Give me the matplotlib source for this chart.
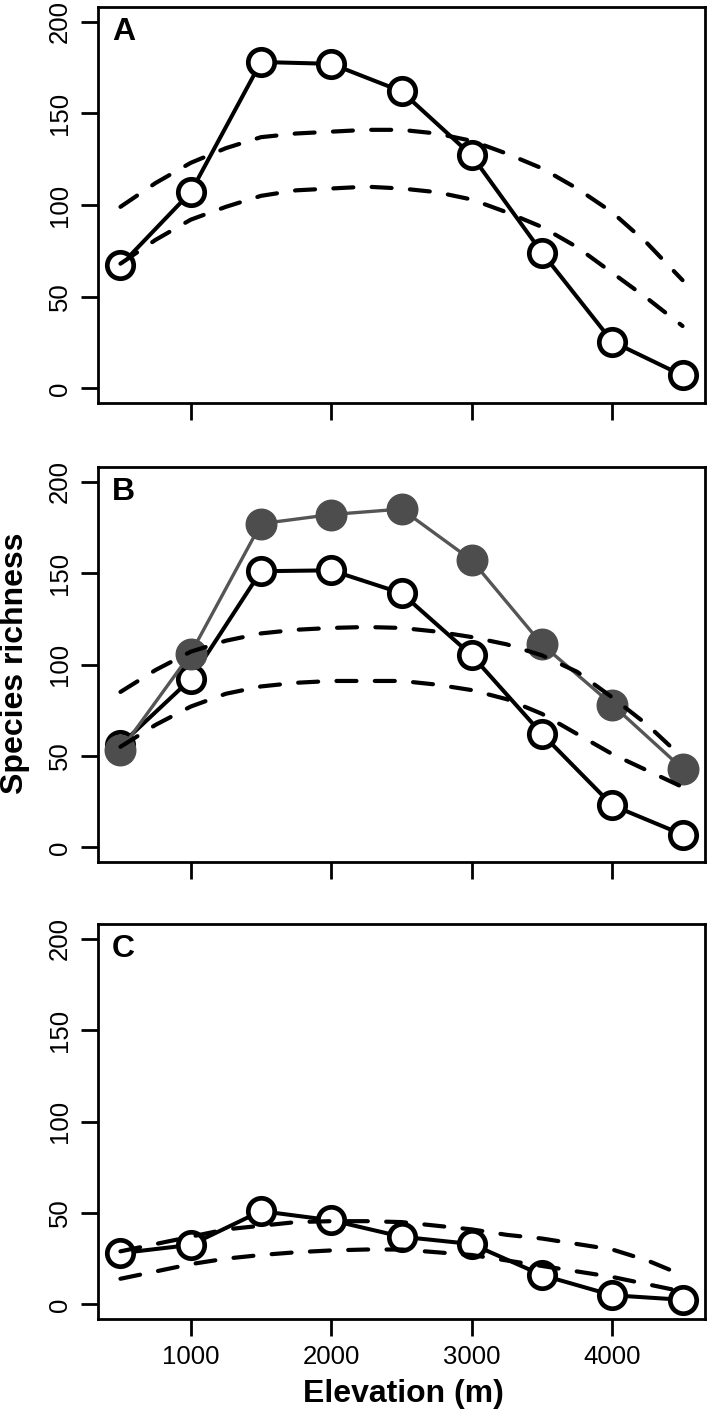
import matplotlib
matplotlib.use('Agg')
import matplotlib.pyplot as plt

plt.rcParams['font.family'] = ['Liberation Sans', 'DejaVu Sans']

# elevation bands (m)
elev = [500, 1000, 1500, 2000, 2500, 3000, 3500, 4000, 4500]
# null model envelope is read at finer steps
elev_null = [500, 750, 1000, 1250, 1500, 1750, 2000, 2250, 2500,
             2750, 3000, 3250, 3500, 3750, 4000, 4250, 4500]

# panel A
rich_a = [67, 107, 178, 177, 162, 127, 74, 25.5, 7]
upper_a = [99, 112, 123, 131, 137, 139, 140, 141, 141, 139, 135, 128, 120, 109, 96, 79, 59]
lower_a = [68, 81, 92, 99, 105, 108, 109, 110, 109, 107, 103, 96, 88, 77, 63, 49, 34]

# panel B
rich_b = [56, 92, 151, 151.5, 139, 105, 62, 23, 7]
rich_b_gray = [53, 106, 177, 182, 185, 157, 111, 78, 43]
upper_b = [85, 97, 107, 113, 117, 119, 120, 120.5, 120, 118, 115, 111, 105, 96, 82, 67, 49]
lower_b = [55, 67, 77, 84, 88, 90, 91, 91, 91, 89, 86, 81, 73, 62, 51, 42, 33]

# panel C
rich_c = [28, 32.5, 51, 46, 37, 33, 16, 5, 2.5]
upper_c = [29, 33, 37, 41, 43, 45, 45.5, 45.5, 45, 43, 41, 38, 36, 33, 30, 24, 16]
lower_c = [14, 18, 22, 25, 27, 28.5, 29.5, 30, 30, 28.5, 27, 24, 21, 18, 15, 11, 7]

panel_letters = ['A', 'B', 'C']
x_ticks = [1000, 2000, 3000, 4000]
y_ticks = [0, 50, 100, 150, 200]

W, H = 709, 1419
fig = plt.figure(figsize=(W / 100, H / 100), dpi=100)


def make_axes(top_px, bottom_px):
    return fig.add_axes([98 / W, (H - bottom_px) / H, 607 / W, (bottom_px - top_px) / H])


def style_axes(ax, letter, show_xlabels):
    ax.set_xlim(340, 4660)
    ax.set_ylim(-8, 208)
    ax.set_xticks(x_ticks)
    ax.set_yticks(y_ticks)
    ax.set_yticklabels([str(v) for v in y_ticks], rotation=90, va='center')
    if not show_xlabels:
        ax.set_xticklabels([])
    ax.tick_params(direction='out', length=12, width=2, labelsize=18.5, pad=7, colors='black')
    for sp in ax.spines.values():
        sp.set_linewidth(2)
    ax.text(0.023, 0.975, letter, transform=ax.transAxes, ha='left', va='top',
            fontsize=23, fontweight='bold')


def draw_null(ax, upper, lower):
    for arr in (upper, lower):
        ax.plot(elev_null, arr, color='black', lw=3.0, linestyle=(0, (4.8, 4.4)),
                dash_capstyle='round', zorder=5)


def draw_open(ax, vals):
    ax.plot(elev, vals, color='black', lw=2.9, marker='o', markersize=19,
            markerfacecolor='white', markeredgecolor='black', markeredgewidth=3.4, zorder=3)


ax_a = make_axes(7, 403)
draw_open(ax_a, rich_a)
draw_null(ax_a, upper_a, lower_a)
style_axes(ax_a, panel_letters[0], False)

ax_b = make_axes(467, 862)
draw_open(ax_b, rich_b)
ax_b.plot(elev, rich_b_gray, color='#555555', lw=2.4, marker='o', markersize=22,
          markerfacecolor='#4d4d4d', markeredgecolor='#4d4d4d', markeredgewidth=1, zorder=4)
draw_null(ax_b, upper_b, lower_b)
style_axes(ax_b, panel_letters[1], False)

ax_c = make_axes(924, 1319)
draw_open(ax_c, rich_c)
draw_null(ax_c, upper_c, lower_c)
style_axes(ax_c, panel_letters[2], True)

fig.text(15 / W, (H - 663) / H, 'Species richness', rotation=90, ha='center', va='center',
         fontsize=23, fontweight='bold')
fig.text(403 / W, (H - 1394) / H, 'Elevation (m)', ha='center', va='center',
         fontsize=23, fontweight='bold')

fig.savefig('out.png', dpi=100)
